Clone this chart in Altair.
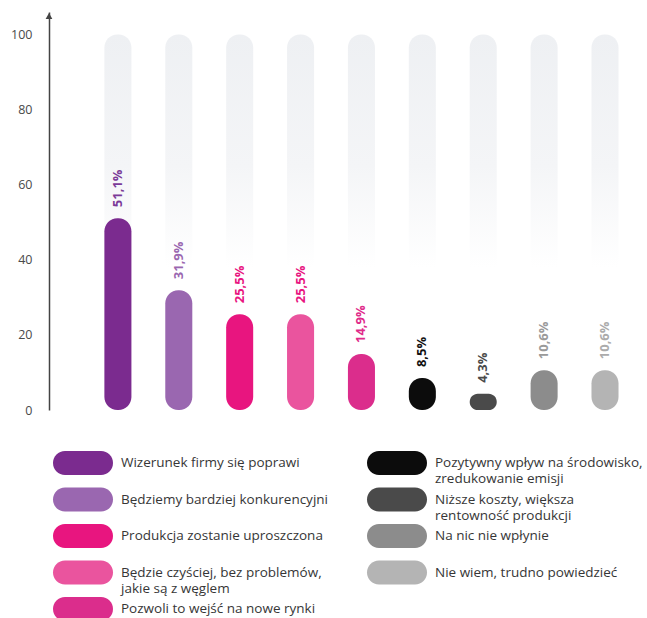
import altair as alt
import pandas as pd

categories = [
    "Wizerunek firmy się poprawi",
    "Będziemy bardziej konkurencyjni",
    "Produkcja zostanie uproszczona",
    "Będzie czyściej, bez problemów, jakie są z węglem",
    "Pozwoli to wejść na nowe rynki",
    "Pozytywny wpływ na środowisko, zredukowanie emisji",
    "Niższe koszty, większa rentowność produkcji",
    "Na nic nie wpłynie",
    "Nie wiem, trudno powiedzieć",
]
values = [51.1, 31.9, 25.5, 25.5, 14.9, 8.5, 4.3, 10.6, 10.6]
value_labels = ["51,1%", "31,9%", "25,5%", "25,5%", "14,9%", "8,5%", "4,3%", "10,6%", "10,6%"]
legend_text = [
    "Wizerunek firmy się poprawi",
    "Będziemy bardziej konkurencyjni",
    "Produkcja zostanie uproszczona",
    "Będzie czyściej, bez problemów,\njakie są z węglem",
    "Pozwoli to wejść na nowe rynki",
    "Pozytywny wpływ na środowisko,\nzredukowanie emisji",
    "Niższe koszty, większa\nrentowność produkcji",
    "Na nic nie wpłynie",
    "Nie wiem, trudno powiedzieć",
]
legend_col = [0, 0, 0, 0, 0, 1, 1, 1, 1]
legend_row = [0, 1, 2, 3, 4, 0, 1, 2, 3]
y_ticks = [0, 20, 40, 60, 80, 100]

bar_colors = ["#7b2b8f", "#9a67b0", "#e8157f", "#ea549e", "#db2d8c",
              "#0c0c0c", "#4a4a4a", "#8c8c8c", "#b4b4b4"]
label_colors = ["#7b3a98", "#9a67b0", "#e8157f", "#e8157f", "#e02a8a",
                "#111111", "#4a4a4a", "#9a9a9a", "#ababab"]

FONT = "Open Sans"

df = pd.DataFrame({"cat": categories, "value": values, "label": value_labels,
                   "full": [100] * len(categories)})

xenc = alt.X("cat:N", sort=categories, axis=None,
             scale=alt.Scale(paddingInner=0.556, paddingOuter=0.623, align=0.73))
yscale = alt.Scale(domain=[0, 106], nice=False, zero=True)
yaxis = alt.Axis(values=y_ticks, grid=False, ticks=False, labelPadding=17,
                 domainColor="#444444", domainWidth=1.5, labelColor="#4a4a4a",
                 labelFontSize=12.5, labelFont=FONT, title=None)

gradient = alt.Gradient(
    gradient="linear",
    stops=[alt.GradientStop(color="#eef0f3", offset=0),
           alt.GradientStop(color="#f4f5f7", offset=0.35),
           alt.GradientStop(color="#ffffff", offset=0.62)],
    x1=0, x2=0, y1=0, y2=1,
)

bg = alt.Chart(df).mark_bar(cornerRadius=13, color=gradient).encode(
    x=xenc,
    y=alt.Y("full:Q", scale=yscale, axis=yaxis),
    y2=alt.datum(0),
)

bars = alt.Chart(df).mark_bar(cornerRadius=13).encode(
    x=xenc,
    y=alt.Y("value:Q", scale=yscale, axis=yaxis),
    y2=alt.datum(0),
    color=alt.Color("cat:N", scale=alt.Scale(domain=categories, range=bar_colors), legend=None),
)

labels = alt.Chart(df).mark_text(angle=270, align="left", baseline="middle", dx=11,
                                 fontWeight="bold", fontSize=13, font=FONT).encode(
    x=xenc,
    y=alt.Y("value:Q", scale=yscale, axis=yaxis),
    text="label:N",
    color=alt.Color("cat:N", scale=alt.Scale(domain=categories, range=label_colors), legend=None),
)

arrow = alt.Chart(alt.Data(values=[{"a": 1}])).mark_point(
    shape="triangle-up", filled=True, size=45, color="#444444", opacity=1
).encode(x=alt.value(0), y=alt.value(4))

top = alt.layer(bg, bars, labels, arrow).resolve_scale(color="independent").properties(
    width=590, height=398
)

ldf = pd.DataFrame({"cat": categories, "text": legend_text, "col": legend_col, "row": legend_row})
PILL = "M-0.6,-0.4 L0.6,-0.4 A0.4,0.4 0 0 1 0.6,0.4 L-0.6,0.4 A0.4,0.4 0 0 1 -0.6,-0.4 Z"
lx = alt.X("col:Q", scale=alt.Scale(domain=[0, 1], range=[34, 348]), axis=None)
ly = alt.Y("row:Q", scale=alt.Scale(domain=[0, 4], range=[46, 192]), axis=None)

swatches = alt.Chart(ldf).mark_point(shape=PILL, filled=True, size=3600, opacity=1).encode(
    x=lx, y=ly,
    color=alt.Color("cat:N", scale=alt.Scale(domain=categories, range=bar_colors), legend=None),
)
ltext = alt.Chart(ldf).mark_text(align="left", baseline="middle", dx=38, lineBreak="\n",
                                 lineHeight=16, fontSize=13.5, font=FONT, color="#363636").encode(
    x=lx, y=ly, text="text:N"
)
legend = alt.layer(swatches, ltext).properties(width=590, height=195)

chart = alt.vconcat(top, legend, spacing=0).properties(
    padding={"left": 10, "top": 12, "right": 0, "bottom": 0}
).configure_view(stroke=None)

chart.save("out.html", embed_options={"renderer": "svg", "actions": False})
